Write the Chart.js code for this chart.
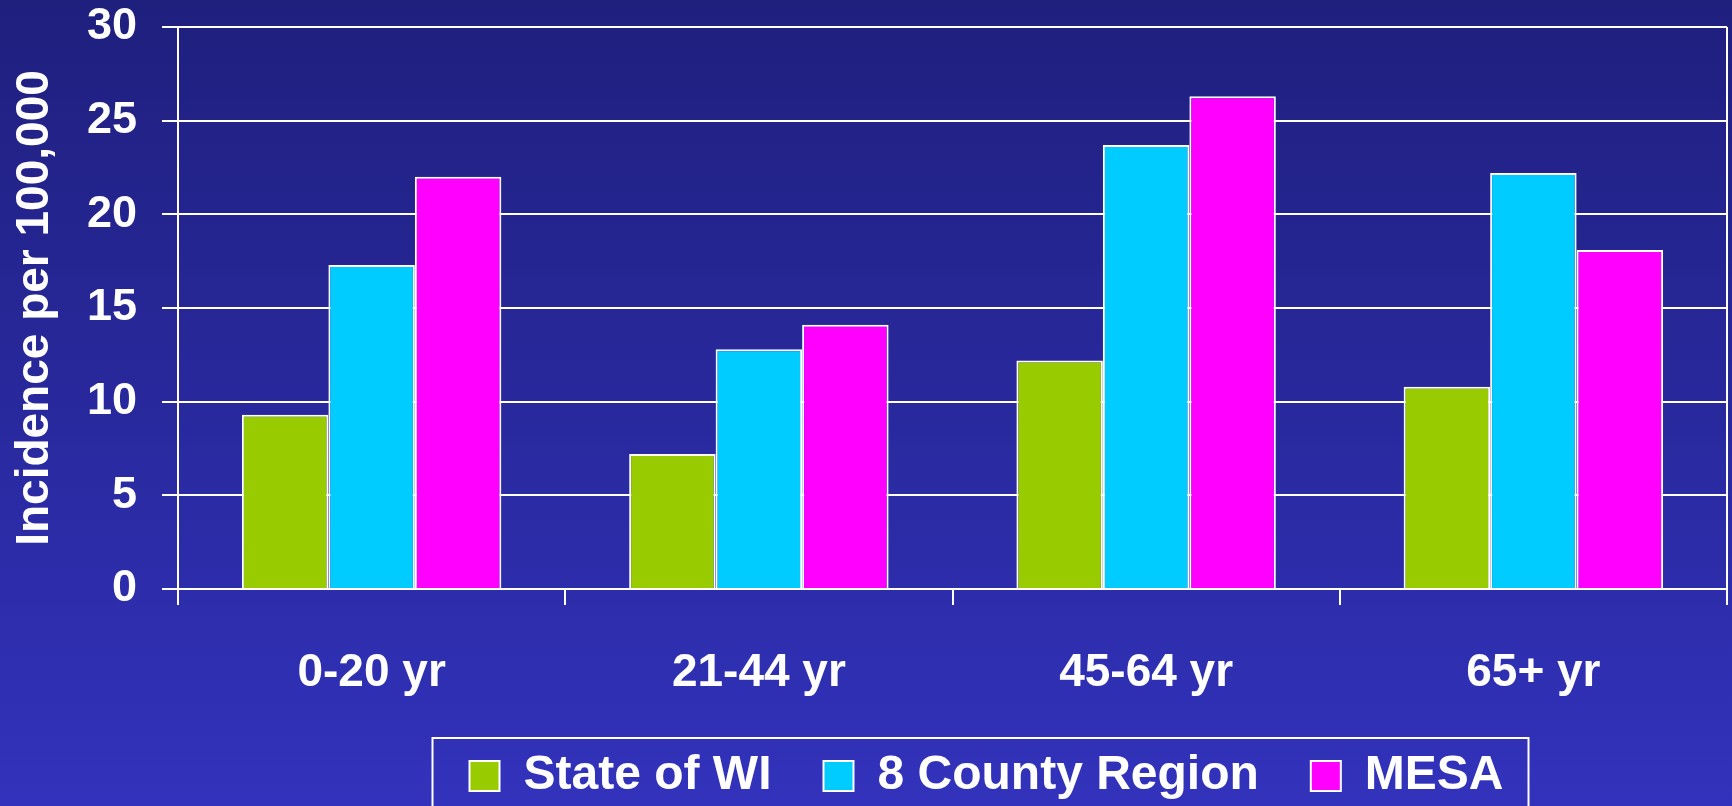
<!DOCTYPE html>
<html>
<head>
<meta charset="utf-8">
<title>Incidence per 100,000 by age group</title>
<script src="https://cdn.jsdelivr.net/npm/chart.js@4.4.1/dist/chart.umd.min.js"></script>
<style>
  html, body { margin: 0; padding: 0; background: #2828a0; }
  canvas { display: block; }
</style>
</head>
<body>
<canvas id="chart" width="1732" height="806"></canvas>
<script>
// ---- data ----
const categories = ["0-20 yr", "21-44 yr", "45-64 yr", "65+ yr"];
const stateWI = [9.3, 7.2, 12.2, 10.8];
const countyRegion = [17.3, 12.8, 23.7, 22.2];
const mesa = [22.0, 14.1, 26.3, 18.1];
const yTicks = [0, 5, 10, 15, 20, 25, 30];

const FONT = "'Liberation Sans', Arial, Helvetica, sans-serif";
const LEGEND_SHIFT = 123; // legend sits right of the canvas centre

// background gradient + right frame line + legend box
const decor = {
    id: "decor",
    beforeDraw(chart) {
        const { ctx, width, height } = chart;
        const g = ctx.createLinearGradient(0, 0, 0, height);
        g.addColorStop(0, "#1f1f7e");
        g.addColorStop(1, "#3232bc");
        ctx.save();
        ctx.fillStyle = g;
        ctx.fillRect(0, 0, width, height);
        ctx.restore();
    },
    afterLayout(chart) {
        chart.legend.left += LEGEND_SHIFT;
        chart.legend.right += LEGEND_SHIFT;
    },
    afterDraw(chart) {
        const { ctx, chartArea } = chart;
        ctx.save();
        ctx.strokeStyle = "#ffffff";
        ctx.lineWidth = 2;
        // right edge of plot
        ctx.beginPath();
        ctx.moveTo(chartArea.right, chartArea.top);
        ctx.lineTo(chartArea.right, chartArea.bottom);
        ctx.stroke();
        // frame around the legend (hitboxes already include the shift)
        const boxes = chart.legend.legendHitBoxes;
        if (boxes && boxes.length) {
            const first = boxes[0];
            const last = boxes[boxes.length - 1];
            const left = first.left - 37;
            const right = last.left + last.width + 25;
            const top = first.top + first.height / 2 - 38;
            ctx.strokeRect(left, top, right - left, chart.height - top + 10);
        }
        ctx.restore();
    }
};

Chart.defaults.font.family = FONT;
Chart.defaults.font.weight = "bold";
Chart.defaults.color = "#ffffff";

new Chart(document.getElementById("chart").getContext("2d"), {
    type: "bar",
    data: {
        labels: categories,
        datasets: [
            { label: "State of WI", data: stateWI, backgroundColor: "#99cc00" },
            { label: "8 County Region", data: countyRegion, backgroundColor: "#00ccff" },
            { label: "MESA", data: mesa, backgroundColor: "#ff00ff" }
        ]
    },
    options: {
        responsive: false,
        animation: false,
        datasets: {
            bar: {
                borderColor: "#ffffff",
                borderWidth: 2,
                categoryPercentage: 0.67,
                barPercentage: 1.0
            }
        },
        layout: { padding: { top: 27, right: 5, left: 0, bottom: 0 } },
        plugins: {
            legend: {
                position: "bottom",
                maxHeight: 106,
                labels: {
                    color: "#ffffff",
                    font: { size: 48, weight: "bold", family: FONT },
                    boxWidth: 30,
                    boxHeight: 30,
                    padding: 52
                }
            },
            tooltip: { enabled: false }
        },
        scales: {
            x: {
                grid: {
                    drawOnChartArea: false,
                    color: "#ffffff",
                    lineWidth: 2,
                    tickLength: 16
                },
                border: { color: "#ffffff", width: 2 },
                ticks: {
                    color: "#ffffff",
                    padding: 41,
                    font: { size: 46, weight: "bold", family: FONT }
                },
                afterFit(scale) { scale.height = 111; }
            },
            y: {
                min: 0,
                max: 30,
                afterBuildTicks(scale) {
                    scale.ticks = yTicks.map(v => ({ value: v }));
                },
                grid: {
                    color: "#ffffff",
                    lineWidth: 2,
                    tickLength: 16
                },
                border: { color: "#ffffff", width: 2 },
                ticks: {
                    color: "#ffffff",
                    padding: 25,
                    font: { size: 45, weight: "bold", family: FONT }
                },
                title: {
                    display: true,
                    text: "Incidence per 100,000",
                    color: "#ffffff",
                    padding: { top: 8, bottom: 0 },
                    font: { size: 46, weight: "bold", family: FONT }
                },
                afterFit(scale) {
                    scale.width = 178;
                    scale.paddingTop = 0;
                    scale.paddingBottom = 0;
                }
            }
        }
    },
    plugins: [decor]
});
</script>
</body>
</html>
